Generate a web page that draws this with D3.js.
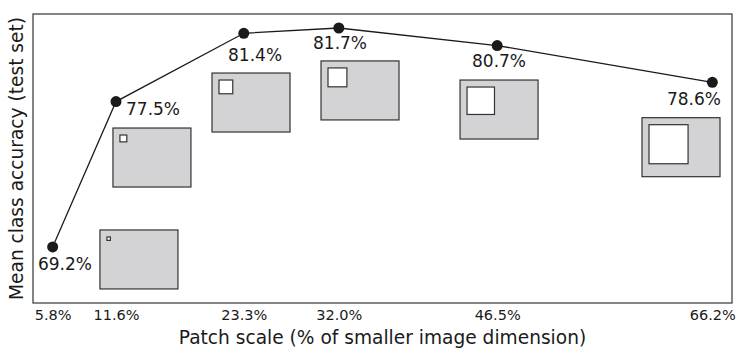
<!DOCTYPE html>
<html>
<head>
<meta charset="utf-8">
<script src="https://cdn.jsdelivr.net/npm/d3@7"></script>
<style>
    body { margin: 0; background: #fff; }
    text { font-family: 'DejaVu Sans', sans-serif; fill: #1a1a1a; }
</style>
</head>
<body>
<svg id="chart"></svg>
<script>
// Patch scale (% of smaller image dimension) and mean class accuracy
const patchScales = [5.8, 11.6, 23.3, 32.0, 46.5, 66.2];
const accuracies = [69.2, 77.5, 81.4, 81.7, 80.7, 78.6];
const tickLabels = ['5.8%', '11.6%', '23.3%', '32.0%', '46.5%', '66.2%'];

// Where each value label sits (data coordinates, centre / top)
const labelX = [6.93, 14.99, 24.33, 32.11, 46.67, 64.52];
const labelY = [68.57, 77.42, 80.50, 81.19, 80.16, 77.99];

// Inset image boxes, top-left corner in data coordinates
const boxX = [10.13, 11.32, 20.39, 30.37, 43.10, 59.76];
const boxY = [70.17, 75.99, 79.13, 79.82, 78.73, 76.58];

const config = {
    width: 745,
    height: 357,
    margin: { top: 14, right: 13, bottom: 54, left: 33 },
    boxW: 78,
    boxH: 59,
    boxPad: 7
};

const innerW = config.width - config.margin.left - config.margin.right;
const innerH = config.height - config.margin.top - config.margin.bottom;

const svg = d3.select('#chart')
    .attr('width', config.width)
    .attr('height', config.height);

const chart = svg.append('g')
    .attr('transform', `translate(${config.margin.left}, ${config.margin.top})`);

const x = d3.scaleLinear().domain([4, 68]).range([0, innerW]);
const y = d3.scaleLinear().domain([66, 82.5]).range([innerH, 0]);

// Inset boxes showing patch size relative to image
const boxes = chart.selectAll('.box')
    .data(patchScales)
    .enter()
    .append('g')
    .attr('class', 'box')
    .attr('transform', (d, i) => `translate(${x(boxX[i])}, ${y(boxY[i])})`);

boxes.append('rect')
    .attr('width', config.boxW)
    .attr('height', config.boxH)
    .attr('fill', '#d3d3d5')
    .attr('stroke', '#333')
    .attr('stroke-width', 1.2);

boxes.append('rect')
    .attr('x', config.boxPad)
    .attr('y', config.boxPad)
    .attr('width', d => d / 100 * config.boxH)
    .attr('height', d => d / 100 * config.boxH)
    .attr('fill', '#fff')
    .attr('stroke', '#333')
    .attr('stroke-width', 1.2);

// Line + points
const line = d3.line()
    .x((d, i) => x(patchScales[i]))
    .y(d => y(d));

chart.append('path')
    .datum(accuracies)
    .attr('d', line)
    .attr('fill', 'none')
    .attr('stroke', '#1a1a1a')
    .attr('stroke-width', 1.3);

chart.selectAll('.dot')
    .data(accuracies)
    .enter()
    .append('circle')
    .attr('class', 'dot')
    .attr('cx', (d, i) => x(patchScales[i]))
    .attr('cy', d => y(d))
    .attr('r', 5.5)
    .attr('fill', '#1a1a1a');

chart.selectAll('.value-label')
    .data(accuracies)
    .enter()
    .append('text')
    .attr('class', 'value-label')
    .attr('x', (d, i) => x(labelX[i]))
    .attr('y', (d, i) => y(labelY[i]))
    .attr('dy', '0.73em')
    .attr('text-anchor', 'middle')
    .style('font-size', '17px')
    .text(d => d.toFixed(1) + '%');

// Frame
chart.append('rect')
    .attr('width', innerW)
    .attr('height', innerH)
    .attr('fill', 'none')
    .attr('stroke', '#444')
    .attr('stroke-width', 1.3);

// X axis (labels only, no tick marks)
const xAxis = d3.axisBottom(x)
    .tickValues(patchScales)
    .tickFormat((d, i) => tickLabels[i])
    .tickSize(0)
    .tickPadding(7);

const xAxisGroup = chart.append('g')
    .attr('transform', `translate(0, ${innerH})`)
    .call(xAxis);

xAxisGroup.select('.domain').remove();
xAxisGroup.selectAll('text')
    .style('font-family', "'DejaVu Sans', sans-serif")
    .style('font-size', '14.5px')
    .attr('fill', '#1a1a1a');

// Axis titles
chart.append('text')
    .attr('x', innerW / 2)
    .attr('y', innerH + 41)
    .attr('text-anchor', 'middle')
    .style('font-size', '18.6px')
    .text('Patch scale (% of smaller image dimension)');

chart.append('text')
    .attr('transform', `translate(${-config.margin.left + 23}, ${innerH / 2}) rotate(270)`)
    .attr('text-anchor', 'middle')
    .style('font-size', '18.6px')
    .text('Mean class accuracy (test set)');
</script>
</body>
</html>
